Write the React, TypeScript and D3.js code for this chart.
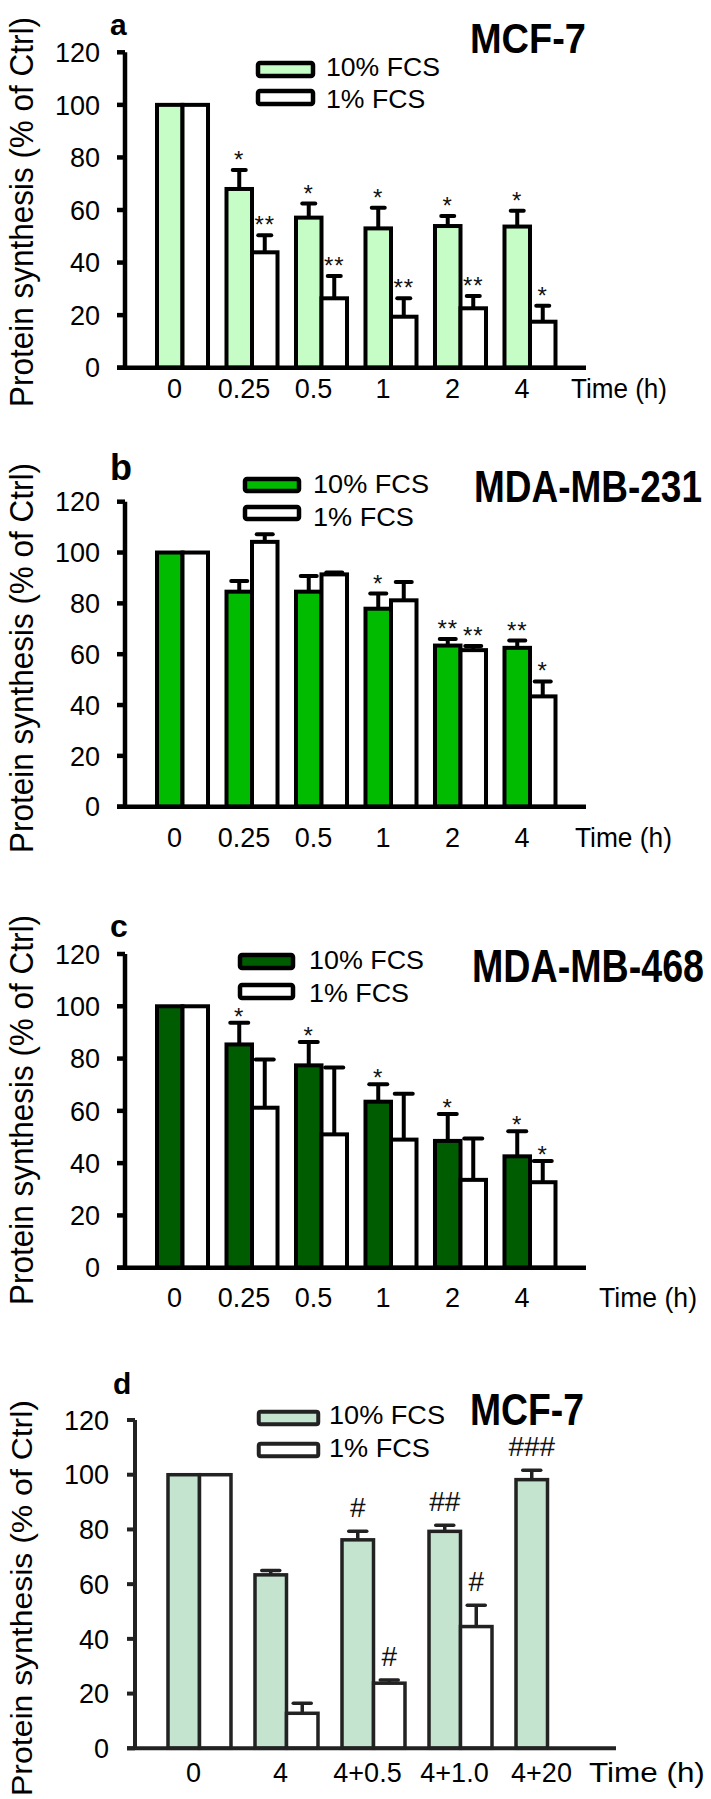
import React from "react";
import * as d3 from "d3";

const FONT = "'Liberation Sans', Arial, Helvetica, sans-serif";

// ---------- data ----------
const timeCats = ["0", "0.25", "0.5", "1", "2", "4"];
const recoveryCats = ["0", "4", "4+0.5", "4+1.0", "4+20"];
const seriesNames = ["10% FCS", "1% FCS"];
const yTicks = [0, 20, 40, 60, 80, 100, 120];
const yLabelText = "Protein synthesis (% of Ctrl)";
const xLabelText = "Time (h)";

// a: MCF-7
const aHigh = [100, 68.0, 57.1, 53.0, 53.9, 53.7];
const aHighErr = [null, 7.2, 5.4, 7.9, 3.8, 6.0];
const aHighMarks = ["", "*", "*", "*", "*", "*"];
const aLow = [100, 43.9, 26.4, 19.4, 22.6, 17.5];
const aLowErr = [null, 6.5, 8.5, 7.0, 4.7, 6.1];
const aLowMarks = ["", "**", "**", "**", "**", "*"];

// b: MDA-MB-231
const bHigh = [100, 84.6, 84.6, 77.9, 63.4, 62.5];
const bHighErr = [null, 4.2, 6.2, 6.0, 2.6, 2.9];
const bHighMarks = ["", "", "", "*", "**", "**"];
const bLow = [100, 104.2, 91.4, 81.2, 61.6, 43.4];
const bLowErr = [null, 3.0, 0.7, 7.2, 1.6, 5.9];
const bLowMarks = ["", "", "", "", "**", "*"];

// c: MDA-MB-468
const cHigh = [100, 85.4, 77.4, 63.5, 48.5, 42.6];
const cHighErr = [null, 8.3, 8.9, 6.7, 10.3, 9.6];
const cHighMarks = ["", "*", "*", "*", "*", "*"];
const cLow = [100, 61.2, 51.0, 49.0, 33.6, 32.7];
const cLowErr = [null, 18.4, 25.6, 17.5, 15.8, 8.1];
const cLowMarks = ["", "", "", "", "", "*"];

// d: MCF-7 recovery
const dHigh = [100, 63.4, 76.2, 79.3, 98.2];
const dHighErr = [null, 1.6, 3.1, 2.2, 3.4];
const dHighMarks = ["", "", "#", "##", "###"];
const dLow = [100, 12.8, 23.8, 44.5, null];
const dLowErr = [null, 3.7, 1.2, 7.8, null];
const dLowMarks = ["", "", "#", "#", ""];

// Arial/Liberation advance widths (em) for stretching texts to measured sizes
const EM: Record<string, number> = {
  "MCF-7": 3.055, "MDA-MB-231": 6.166, "MDA-MB-468": 6.166,
  [yLabelText]: 12.392, [xLabelText]: 3.722, "10% FCS": 4.279, "1% FCS": 3.723,
};

// ---------- layouts ----------
const baseABC = {
  axisX: 125, tickLeft: 117, axisRight: 586,
  bandStart: 157, bandEnd: 555.5, padInner: 0.266, labelDx: -8,
  tickLabelRight: 100, tickFont: 27, letterX: 110,
  legendFont: 26, ylabX: 33, ylabLen: 390, ylabFont: 34,
  stroke: "#000", strokeW: 4, axisW: 4.5, markFont: 24,
};

const panels = [
  {
    letter: "a", title: "MCF-7", cats: timeCats, fill: "#c6fcc6",
    high: aHigh, highErr: aHighErr, highMarks: aHighMarks,
    low: aLow, lowErr: aLowErr, lowMarks: aLowMarks,
    L: { ...baseABC, y0: 367.7, y120: 52.3, labelY: 398, timeX: 571, timeW: 97,
      letterY: 35, letterSize: 30, titleX: 470, titleY: 53, titleW: 116, titleSize: 42,
      legendX: 256, legendY1: 61, legendY2: 89, legendW: 59, legendH: 17,
      legendTextX: 326, legendTextY1: 76, legendTextY2: 108, legendTextW: 114,
      ylabY: 212, capW: 13, markGap: 12 },
  },
  {
    letter: "b", title: "MDA-MB-231", cats: timeCats, fill: "#00bb00",
    high: bHigh, highErr: bHighErr, highMarks: bHighMarks,
    low: bLow, lowErr: bLowErr, lowMarks: bLowMarks,
    L: { ...baseABC, y0: 806.7, y120: 501.7, labelY: 847, timeX: 575, timeW: 98,
      letterY: 480, letterSize: 36, titleX: 474, titleY: 502, titleW: 228, titleSize: 44,
      legendX: 243, legendY1: 477, legendY2: 505, legendW: 58, legendH: 16,
      legendTextX: 313, legendTextY1: 493, legendTextY2: 526, legendTextW: 116,
      ylabY: 658, capW: 16, markGap: 12 },
  },
  {
    letter: "c", title: "MDA-MB-468", cats: timeCats, fill: "#005c00",
    high: cHigh, highErr: cHighErr, highMarks: cHighMarks,
    low: cLow, lowErr: cLowErr, lowMarks: cLowMarks,
    L: { ...baseABC, y0: 1267.7, y120: 954, labelY: 1307, timeX: 599, timeW: 99,
      letterY: 937, letterSize: 32, titleX: 472, titleY: 982, titleW: 232, titleSize: 47,
      legendX: 238, legendY1: 953, legendY2: 983, legendW: 57, legendH: 17,
      legendTextX: 309, legendTextY1: 969, legendTextY2: 1002, legendTextW: 115,
      ylabY: 1110, capW: 18, markGap: 8 },
  },
  {
    letter: "d", title: "MCF-7", cats: recoveryCats, fill: "#c4e4d0",
    high: dHigh, highErr: dHighErr, highMarks: dHighMarks,
    low: dLow, lowErr: dLowErr, lowMarks: dLowMarks,
    L: { axisX: 135, tickLeft: 127, axisRight: 616,
      bandStart: 168, bandEnd: 579, padInner: 0.276, labelDx: -6,
      tickLabelRight: 109, tickFont: 27, letterX: 113,
      legendFont: 25, ylabX: 32, ylabLen: 396, ylabFont: 30,
      stroke: "#222", strokeW: 3.5, axisW: 4, markFont: 28,
      y0: 1748.3, y120: 1420, labelY: 1782, timeX: 589, timeW: 117,
      letterY: 1394, letterSize: 30, titleX: 470, titleY: 1425, titleW: 114, titleSize: 44,
      legendX: 257, legendY1: 1410, legendY2: 1442, legendW: 63, legendH: 16,
      legendTextX: 329, legendTextY1: 1424, legendTextY2: 1457, legendTextW: 116,
      ylabY: 1598, capW: 18, markGap: 14 },
  },
];

// Text whose advance width equals `width` and whose glyph height matches font size `size`
function FitText({ text, x, y, width, size, bold, anchor, rotate }: any) {
  const fs = width / EM[text];
  const sy = size / fs;
  const tr = `translate(${x},${y})${rotate ? " rotate(-90)" : ""} scale(1,${sy.toFixed(4)})`;
  return (
    <text transform={tr} fontSize={fs} fontWeight={bold ? "bold" : "normal"} fill="#000"
      textAnchor={anchor || "start"}>{text}</text>
  );
}

function Panel({ p }: { p: any }) {
  const L = p.L;
  const y = d3.scaleLinear().domain([0, 120]).range([L.y0, L.y120]);
  const x = d3.scaleBand<string>().domain(p.cats).range([L.bandStart, L.bandEnd])
    .paddingInner(L.padInner).paddingOuter(0);
  const xs = d3.scaleBand<string>().domain(seriesNames).range([0, x.bandwidth()]).padding(0);
  const series = [
    { name: seriesNames[0], vals: p.high, errs: p.highErr, marks: p.highMarks, fill: p.fill },
    { name: seriesNames[1], vals: p.low, errs: p.lowErr, marks: p.lowMarks, fill: "#ffffff" },
  ];
  const sw = L.strokeW;
  const ratio1 = EM["1% FCS"] / EM["10% FCS"];

  return (
    <g fontFamily={FONT}>
      <text x={L.letterX} y={L.letterY} fontSize={L.letterSize} fontWeight="bold" fill="#000">{p.letter}</text>
      <FitText text={p.title} x={L.titleX} y={L.titleY} width={L.titleW} size={L.titleSize} bold />
      <FitText text={yLabelText} x={L.ylabX} y={L.ylabY} width={L.ylabLen} size={L.ylabFont} anchor="middle" rotate />
      {series.map((s, i) => {
        const by = i === 0 ? L.legendY1 : L.legendY2;
        const ty = i === 0 ? L.legendTextY1 : L.legendTextY2;
        return (
          <g key={s.name}>
            <rect x={L.legendX + sw / 2} y={by + sw / 2} width={L.legendW - sw} height={L.legendH - sw}
              fill={s.fill} stroke={L.stroke} strokeWidth={sw + 0.5} rx={2} />
            <FitText text={s.name} x={L.legendTextX} y={ty}
              width={i === 0 ? L.legendTextW : L.legendTextW * ratio1} size={L.legendFont} />
          </g>
        );
      })}
      {series.map((s) => (
        <g key={"bars" + s.name}>
          {p.cats.map((c: string, i: number) => {
            const v = s.vals[i];
            if (v === null || v === undefined) return null;
            const bx = (x(c) as number) + (xs(s.name) as number);
            return (
              <rect key={c} x={bx} y={y(v)} width={xs.bandwidth()} height={L.y0 - y(v)}
                fill={s.fill} stroke={L.stroke} strokeWidth={sw} />
            );
          })}
        </g>
      ))}
      {series.map((s) => (
        <g key={"err" + s.name}>
          {p.cats.map((c: string, i: number) => {
            const v = s.vals[i];
            const e = s.errs[i];
            const cx = (x(c) as number) + (xs(s.name) as number) + xs.bandwidth() / 2;
            const mark = s.marks[i];
            if (v === null || v === undefined) return null;
            const topV = e ? v + e : v;
            const capY = y(topV);
            const isStar = mark && mark.indexOf("*") >= 0;
            const markY = isStar ? capY - L.markGap + 0.42 * L.markFont : capY - L.markGap;
            return (
              <g key={c}>
                {e ? (
                  <g stroke={L.stroke} strokeWidth={sw}>
                    <line x1={cx} x2={cx} y1={y(v)} y2={capY} />
                    <line x1={cx - L.capW / 2} x2={cx + L.capW / 2} y1={capY} y2={capY} strokeLinecap="round" />
                  </g>
                ) : null}
                {mark ? (
                  <text x={cx} y={markY} textAnchor="middle" fontSize={L.markFont} fill="#111"
                    letterSpacing={isStar ? 1 : 0}>{mark}</text>
                ) : null}
              </g>
            );
          })}
        </g>
      ))}
      <line x1={L.axisX} x2={L.axisX} y1={y(120)} y2={L.y0} stroke={L.stroke} strokeWidth={L.axisW} />
      <line x1={L.tickLeft} x2={L.axisRight} y1={L.y0} y2={L.y0} stroke={L.stroke} strokeWidth={L.axisW} />
      {yTicks.map((t) => (
        <g key={t}>
          <line x1={L.tickLeft} x2={L.axisX} y1={y(t)} y2={y(t)} stroke={L.stroke} strokeWidth={L.axisW} />
          <text x={L.tickLabelRight} y={y(t)} dy="0.36em" textAnchor="end" fontSize={L.tickFont} fill="#000">{t}</text>
        </g>
      ))}
      {p.cats.map((c: string) => (
        <text key={c} x={(x(c) as number) + x.bandwidth() / 2 + L.labelDx} y={L.labelY}
          textAnchor="middle" fontSize={L.tickFont} fill="#000">{c}</text>
      ))}
      <FitText text={xLabelText} x={L.timeX} y={L.labelY} width={L.timeW} size={L.tickFont} />
    </g>
  );
}

export default function App() {
  return (
    <svg width={711} height={1799} viewBox="0 0 711 1799"
      style={{ position: "absolute", left: 0, top: 0, background: "#fff", display: "block" }}>
      <rect x={0} y={0} width={711} height={1799} fill="#fff" />
      {panels.map((p) => (
        <Panel key={p.letter} p={p} />
      ))}
    </svg>
  );
}
